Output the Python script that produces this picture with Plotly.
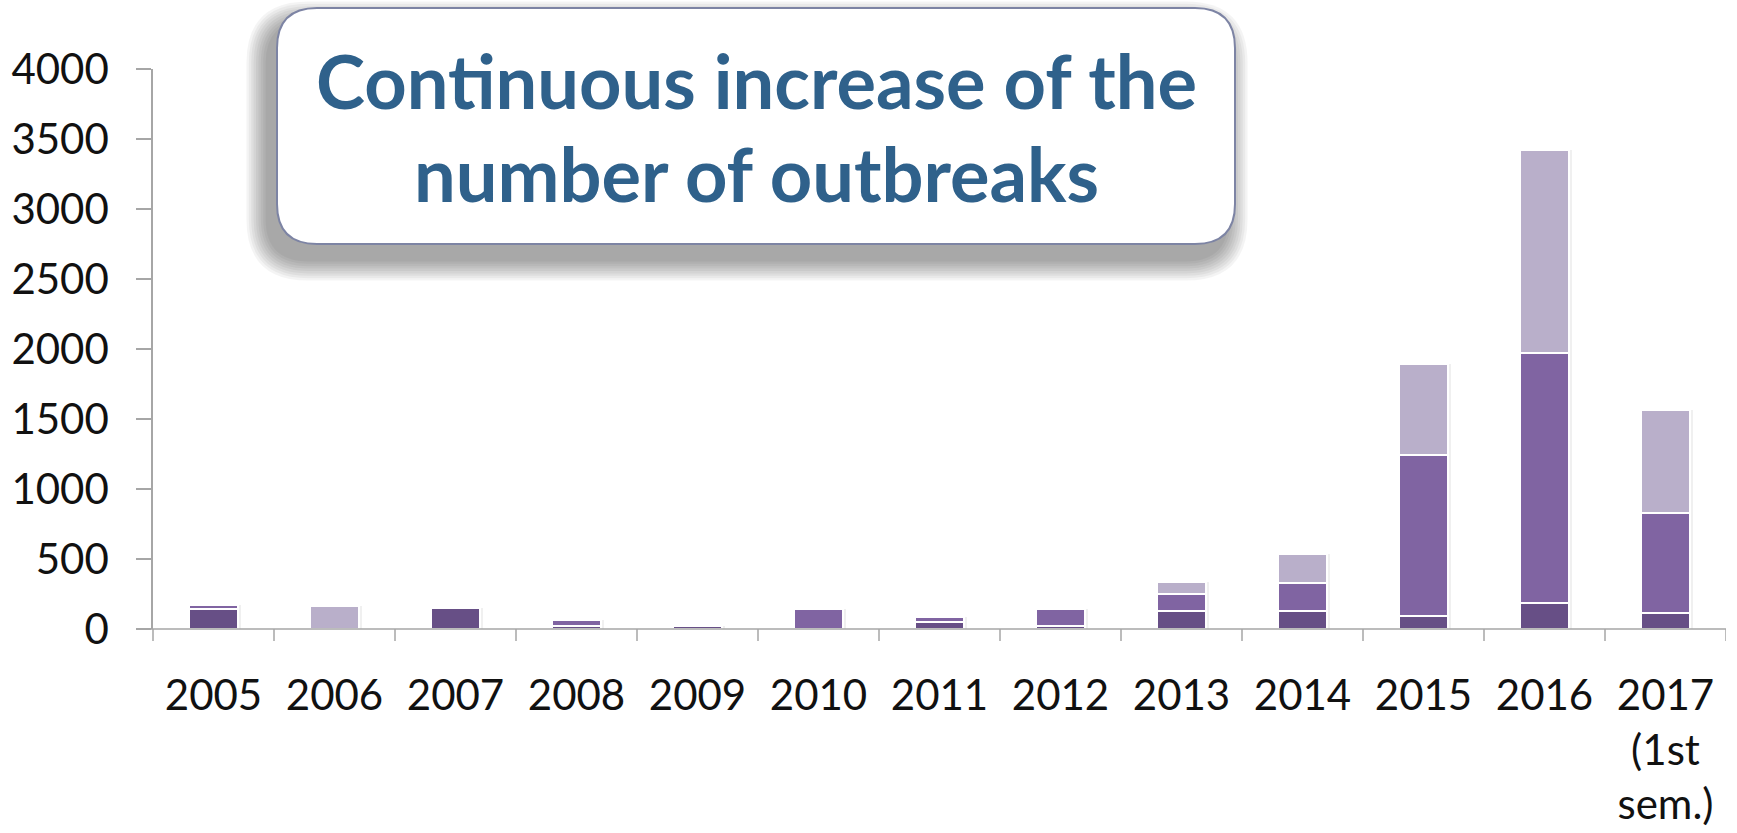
import plotly.graph_objects as go

# Outbreaks per year, split in three stacked groups
years = ["2005", "2006", "2007", "2008", "2009", "2010", "2011", "2012",
         "2013", "2014", "2015", "2016", "2017"]
tick_text = ["2005", "2006", "2007", "2008", "2009", "2010", "2011", "2012",
             "2013", "2014", "2015", "2016", "2017<br>(1st<br>sem.)"]
series_dark = [145, 0, 150, 20, 22, 0, 50, 18, 126, 126, 95, 187, 116]
series_mid = [30, 0, 0, 46, 0, 143, 38, 123, 124, 200, 1145, 1782, 711]
series_light = [0, 166, 0, 0, 0, 0, 0, 0, 84, 210, 650, 1455, 738]
y_ticks = [0, 500, 1000, 1500, 2000, 2500, 3000, 3500, 4000]

W, H = 1737, 833
L, R, T, B = 153, 1726, 69, 629  # plot area in pixels

def px(x):
    return (x - L) / (R - L)

def py(y):
    return (B - y) / (B - T)

def rounded_path(x0, y0, x1, y1, r):
    # x0<x1, y0<y1 in pixel space (y down); returns SVG path in paper units
    pts = [
        f"M {px(x0 + r)} {py(y0)}",
        f"L {px(x1 - r)} {py(y0)}",
        f"Q {px(x1)} {py(y0)} {px(x1)} {py(y0 + r)}",
        f"L {px(x1)} {py(y1 - r)}",
        f"Q {px(x1)} {py(y1)} {px(x1 - r)} {py(y1)}",
        f"L {px(x0 + r)} {py(y1)}",
        f"Q {px(x0)} {py(y1)} {px(x0)} {py(y1 - r)}",
        f"L {px(x0)} {py(y0 + r)}",
        f"Q {px(x0)} {py(y0)} {px(x0 + r)} {py(y0)}",
        "Z",
    ]
    return " ".join(pts)

dark = "#674f86"
mid = "#8064a2"
light = "#b9afca"

fig = go.Figure()

totals = [a + b + c for a, b, c in zip(series_dark, series_mid, series_light)]
idx = list(range(len(years)))

# faint drop shadow behind each stacked column
fig.add_trace(go.Bar(
    x=idx, y=totals, width=0.43, offset=-0.205,
    marker=dict(color="rgba(0,0,0,0.06)", line=dict(width=0)),
    xaxis="x", yaxis="y", hoverinfo="skip", showlegend=False,
))

for vals, col in [(series_dark, dark), (series_mid, mid), (series_light, light)]:
    fig.add_trace(go.Bar(
        x=idx, y=vals, width=0.40,
        marker=dict(color=col, line=dict(color="white", width=2)),
        xaxis="x2", yaxis="y2", showlegend=False,
    ))

fig.update_layout(
    width=W, height=H,
    margin=dict(l=L, r=W - R, t=T, b=H - B, pad=0, autoexpand=False),
    paper_bgcolor="white", plot_bgcolor="white",
    barmode="stack", bargap=0.6,
    font=dict(family="Lato", size=42, color="#111111"),
    xaxis=dict(
        type="linear", range=[-0.5, 12.5], automargin=False,
        tickmode="array", tickvals=idx, ticktext=tick_text,
        showline=False, showgrid=False, zeroline=False,
        ticks="", ticklabelstandoff=38,
        tickfont=dict(family="Lato", size=42, color="#111111"),
    ),
    yaxis=dict(
        range=[0, 4000], tickmode="array", tickvals=y_ticks, automargin=False,
        showline=True, linecolor="#a6a6a6", linewidth=1.5,
        ticks="outside", ticklen=15, tickcolor="#a6a6a6", tickwidth=1.5,
        showgrid=False, zeroline=False, ticklabelstandoff=19,
        tickfont=dict(family="Lato", size=42, color="#111111"),
    ),
    xaxis2=dict(range=[-0.5, 12.5], overlaying="x", visible=False),
    yaxis2=dict(range=[0, 4000], overlaying="y", visible=False),
)

shapes = []
# category axis line and boundary ticks
shapes.append(dict(type="line", xref="paper", yref="paper",
                   x0=px(137), x1=1, y0=0, y1=0,
                   line=dict(color="#a6a6a6", width=1.5), layer="above"))
shapes.append(dict(type="line", xref="paper", yref="paper",
                   x0=0, x1=0, y0=0, y1=py(641),
                   line=dict(color="#a6a6a6", width=1.5)))
for k in range(1, 14):
    xb = k - 0.5
    shapes.append(dict(type="line", xref="x", yref="paper",
                       x0=xb, x1=xb, y0=0, y1=py(641),
                       line=dict(color="#a6a6a6", width=1.5)))

# callout box with soft shadow
bx0, by0, bx1, by1, rad = 277, 8, 1235, 244, 40
for s in range(9, 0, -1):
    g = s * 2.4
    shapes.append(dict(type="path", xref="paper", yref="paper",
                       path=rounded_path(bx0 - 9 - g, by0 + 15 - g,
                                         bx1 - 9 + g, by1 + 15 + g, rad + g),
                       fillcolor="rgba(0,0,0,0.045)", line=dict(width=0),
                       layer="above"))
shapes.append(dict(type="path", xref="paper", yref="paper",
                   path=rounded_path(bx0, by0, bx1, by1, rad),
                   fillcolor="white", line=dict(color="#7d84a4", width=2),
                   layer="above"))
fig.update_layout(shapes=shapes)

title_color = "#2f618b"
for text, yc in [("Continuous increase of the", 80), ("number of outbreaks", 173)]:
    fig.add_annotation(
        text=text, xref="paper", yref="paper",
        x=px((bx0 + bx1) / 2), y=py(yc), xanchor="center", yanchor="middle",
        showarrow=False,
        font=dict(family="Lato", size=74, color=title_color, weight="bold"),
    )

fig.write_html("out.html")
